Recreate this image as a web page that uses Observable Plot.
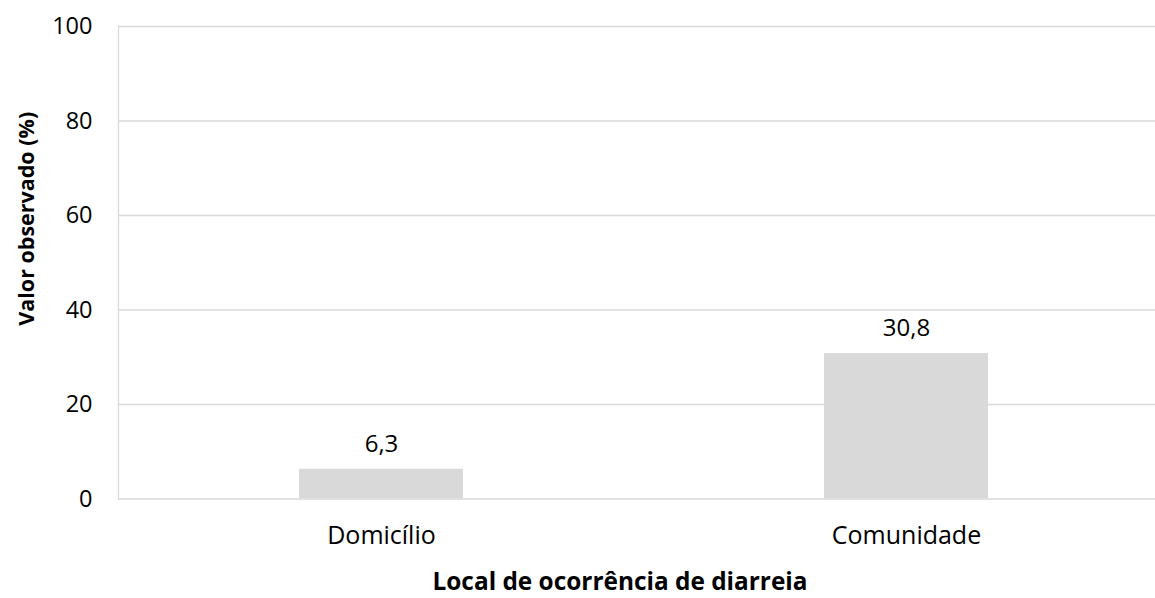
<!DOCTYPE html>
<html>
<head>
<meta charset="utf-8">
<script src="https://cdn.jsdelivr.net/npm/d3@7"></script>
<script src="https://cdn.jsdelivr.net/npm/@observablehq/plot@0.6"></script>
<style>
  html, body { margin: 0; padding: 0; background: #fff; }
</style>
</head>
<body>
<div id="chart"></div>
<script>
const categories = ["Domicílio", "Comunidade"];
const values = [6.3, 30.8];
const yTicks = [0, 20, 40, 60, 80, 100];
const xTitle = "Local de ocorrência de diarreia";
const yTitle = "Valor observado (%)";

const data = categories.map((c, i) => ({category: c, value: values[i]}));
const fmt = v => v.toLocaleString("pt-BR", {minimumFractionDigits: 1, maximumFractionDigits: 1});

const chart = Plot.plot({
  width: 1155,
  height: 598,
  marginLeft: 118,
  marginRight: 0,
  marginTop: 26,
  marginBottom: 99.5,
  style: {fontFamily: "'Open Sans', sans-serif", fontSize: "23px", color: "#000", background: "#fff"},
  x: {domain: categories, range: [118.5, 1168.5], paddingInner: 0.688, paddingOuter: 0.344, label: null},
  y: {domain: [0, 100], label: null},
  marks: [
    Plot.ruleY(yTicks, {stroke: "#d9d9d9", strokeWidth: 1.3}),
    Plot.frame({anchor: "left", stroke: "#d9d9d9", strokeWidth: 1.3}),
    Plot.barY(data, {x: "category", y: "value", fill: "#d9d9d9"}),
    Plot.text(data, {x: "category", y: "value", text: d => fmt(d.value), lineAnchor: "bottom", dy: -17, fontSize: 24, fill: "#000"}),
    Plot.axisY({ticks: yTicks, tickSize: 0, tickPadding: 26, label: null, fontSize: 23.5}),
    Plot.axisX({tickSize: 0, tickPadding: 27, label: null, fontSize: 25}),
    Plot.text([xTitle], {frameAnchor: "bottom", dx: -17, dy: 91, fontWeight: "bold", fontSize: 24.4, fill: "#000"}),
    Plot.text([yTitle], {frameAnchor: "left", textAnchor: "middle", rotate: -90, dx: -91, dy: -44, fontWeight: "bold", fontSize: 21.5, fill: "#000"})
  ]
});
document.getElementById("chart").appendChild(chart);
</script>
</body>
</html>
